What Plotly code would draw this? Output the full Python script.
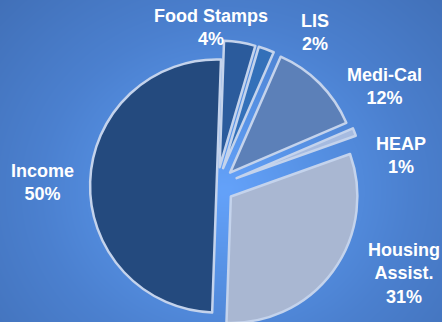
import numpy as np
import plotly.graph_objects as go

# Benefit sources and their shares (percent)
labels = ["Food Stamps", "LIS", "Medi-Cal", "HEAP", "Housing\nAssist.", "Income"]
values = [4, 2, 12, 1, 31, 50]
slice_colors = ["#2b5b9c", "#3370b9", "#5c80b8", "#a6bbe0", "#a9b7d2", "#244a7e"]
pulls = [0.15, 0.15, 0.15, 0.17, 0.14, 0.0]

# Label anchor points in pixels (x from left, y from top)
label_px = [(211, 27), (315, 33), (384, 86), (401, 155), (404, 273), (42, 183)]

W, H = 442, 334

fig = go.Figure()

# Soft radial glow behind the pie
gx = np.linspace(0, W, 45)
gy = np.linspace(0, H, 35)
XX, YY = np.meshgrid(gx, gy)
dist = np.sqrt(((XX - 225) / 1.0) ** 2 + ((H - YY - 190) / 0.9) ** 2)
dist = dist / dist.max()
fig.add_trace(go.Heatmap(
    x=gx, y=gy, z=dist, zsmooth="best", showscale=False, hoverinfo="skip",
    colorscale=[[0, "#64a2fa"], [0.3, "#5691e4"], [0.6, "#4b80cf"], [1, "#4170b8"]],
    zmin=0, zmax=1,
))

fig.add_trace(go.Pie(
    labels=labels, values=values, sort=False, direction="clockwise", rotation=2,
    pull=pulls, textinfo="none", hoverinfo="label+percent",
    marker=dict(colors=slice_colors, line=dict(color="#c4d3ec", width=2.5)),
    domain=dict(x=[0, 0.98], y=[0, 296 / H]),
    showlegend=False,
))

total = sum(values)
annotations = []
for lab, val, (px, py) in zip(labels, values, label_px):
    pct = round(100 * val / total)
    text = "<b>" + lab.replace("\n", "<br>") + f"<br>{pct}%</b>"
    annotations.append(dict(
        x=px / W, y=(H - py) / H, xref="paper", yref="paper",
        text=text, showarrow=False, xanchor="center", yanchor="middle",
        font=dict(family="Arial, Liberation Sans, sans-serif", size=18, color="white"),
    ))

fig.update_layout(
    width=W, height=H,
    margin=dict(l=0, r=0, t=0, b=0),
    paper_bgcolor="#4676c0", plot_bgcolor="#4676c0",
    xaxis=dict(visible=False, range=[0, W], domain=[0, 1], fixedrange=True),
    yaxis=dict(visible=False, range=[0, H], domain=[0, 1], fixedrange=True),
    annotations=annotations,
)

fig.write_html(
    "out.html",
    post_script="document.documentElement.style.overflow='hidden';document.body.style.overflow='hidden';document.body.style.margin='0';",
)
